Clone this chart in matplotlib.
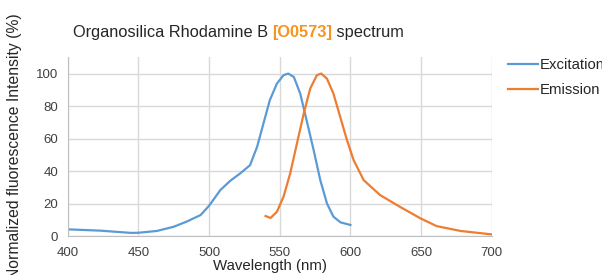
import matplotlib.pyplot as plt
import numpy as np

plt.rcParams['font.family'] = ['Liberation Sans', 'DejaVu Sans']

# excitation spectrum
ex_wl = [400, 423, 445, 450, 463, 475, 484, 494, 500, 508, 515, 522, 529,
         534, 538.5, 543, 548, 552.7, 556, 560, 564.5, 569, 574, 578.7,
         583.4, 588, 593, 600]
ex_val = [4.1, 3.3, 1.9, 2.0, 3.1, 5.7, 8.8, 12.9, 18.6, 28.3, 34.0, 38.5, 43.6,
          54.9, 69.3, 83.6, 93.8, 99.0, 100.0, 97.9, 87.7, 71.3, 52.9, 34.4,
          20.1, 11.9, 8.4, 6.8]

# emission spectrum
em_wl = [540, 543.5, 548, 552.7, 557.4, 562.2, 567, 571.6, 576.3, 579.4,
         583.4, 588, 592.8, 597.6, 602.3, 609.4, 621, 635, 649.5, 661, 678, 700]
em_val = [12.3, 11.1, 14.9, 24.2, 38.5, 57.0, 75.4, 90.8, 99.0, 100.0,
          96.9, 87.7, 73.3, 59.0, 46.7, 34.4, 25.2, 18.0, 10.9, 6.1, 3.1, 1.0]

x_ticks = [400, 450, 500, 550, 600, 650, 700]
y_ticks = [0, 20, 40, 60, 80, 100]

fig = plt.figure(figsize=(6.02, 2.75), dpi=100)
ax = fig.add_axes([0.1125, 0.1418, 0.7043, 0.6498])

ax.plot(ex_wl, ex_val, color='#5b9bd5', lw=1.6, label='Excitation')
ax.plot(em_wl, em_val, color='#ed7d31', lw=1.6, label='Emission')

ax.set_xlim(400, 700)
ax.set_ylim(0, 110)
ax.set_xticks(x_ticks)
ax.set_yticks(y_ticks)
ax.grid(True, color='#d9d9d9', lw=1)
ax.set_axisbelow(True)
for s in ['top', 'right']:
    ax.spines[s].set_visible(False)
for s in ['left', 'bottom']:
    ax.spines[s].set_color('#bfbfbf')
ax.tick_params(axis='x', length=0, labelsize=9.5, colors='#404040', pad=8)
ax.tick_params(axis='y', length=0, labelsize=9.5, colors='#404040', pad=7)

ax.set_xlabel('Wavelength (nm)', fontsize=10.8, color='#262626', labelpad=0)
ax.xaxis.set_label_coords(0.477, -0.13)
ax.set_ylabel('Normalized fluorescence Intensity (%)', fontsize=11.3,
              color='#262626')
ax.yaxis.set_label_coords(-0.108, 0.5)

ax.legend(loc='upper left', bbox_to_anchor=(1.014, 1.054), frameon=False,
          fontsize=10.7, handlelength=2.0, handletextpad=0.15,
          labelspacing=0.75, borderaxespad=0.3, labelcolor='#262626')

# title with coloured product code
t1 = fig.text(0.121, 0.865, 'Organosilica Rhodamine B ', fontsize=11.8,
              color='#262626', va='baseline')
t2 = fig.text(0, 0, '[O0573]', fontsize=11.8, color='#f7941d',
              fontweight='bold', va='baseline')
fig.canvas.draw()
r = fig.canvas.get_renderer()
bb = t1.get_window_extent(r).transformed(fig.transFigure.inverted())
t2.set_position((bb.x1, 0.865))
bb2 = t2.get_window_extent(r).transformed(fig.transFigure.inverted())
fig.text(bb2.x1, 0.865, ' spectrum', fontsize=11.8, color='#262626',
         va='baseline')

fig.savefig('out.png', dpi=100)
